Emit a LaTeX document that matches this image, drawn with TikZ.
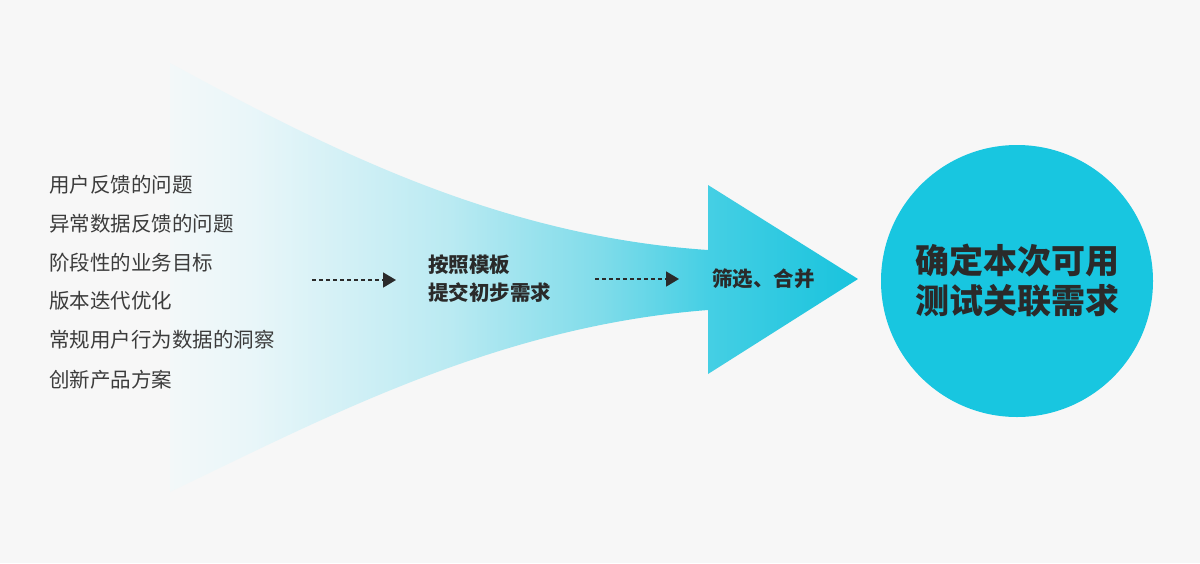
\documentclass[tikz,border=0pt]{standalone}
\usepackage{fontspec}
\setmainfont{Noto Sans CJK SC}
\usetikzlibrary{arrows.meta}
\definecolor{bgc}{HTML}{F7F7F7}
\definecolor{s0}{HTML}{F3F8F9}
\definecolor{s1}{HTML}{E9F6F9}
\definecolor{s2}{HTML}{BAEAF2}
\definecolor{s3}{HTML}{80DCEA}
\definecolor{s4}{HTML}{45CFE4}
\definecolor{s5}{HTML}{18C3DD}
\definecolor{circ}{HTML}{18C6E0}
\definecolor{txt}{HTML}{3C3C3C}
\definecolor{dark}{HTML}{2A2A2A}
\pgfdeclarehorizontalshading{fan}{100bp}{color(0bp)=(s0); color(25bp)=(s0); color(30.8bp)=(s1); color(45.3bp)=(s2); color(56.25bp)=(s3); color(64.1bp)=(s4); color(75bp)=(s5); color(100bp)=(s5)}
\tikzset{
  listitem/.style={anchor=west, text=txt, font=\fontsize{20.5}{24}\selectfont, inner sep=0pt},
  midtext/.style={anchor=west, text=dark, font=\fontsize{20.5}{28}\selectfont\bfseries, inner sep=0pt, align=left},
  flow/.style={draw=dark, line width=1.8pt, dash pattern=on 4pt off 3pt, -{Triangle[length=13pt,width=15pt]}},
}
\begin{document}
\begin{tikzpicture}[x=1pt,y=-1pt]
\fill[bgc] (0,0) rectangle (1200,563);
\useasboundingbox (0,0) rectangle (1200,563);
% fan arrow
\shade[shading=fan] (170,63) .. controls (330,150) and (500,236) .. (708,250)
  -- (708,185) -- (858,279) -- (708,374) -- (708,310)
  .. controls (500,326) and (330,415) .. (170,492) -- cycle;
% circle
\node[circle, fill=circ, minimum size=272pt, inner sep=0pt] (goal) at (1017,281) {};
\node[text=dark, font=\fontsize{34}{40}\selectfont\bfseries, align=center] (goaltext) at (goal.center) {确定本次可用\\测试关联需求};
% list
\node[listitem] (l1) at (49,185) {用户反馈的问题};
\node[listitem] (l2) at (49,224) {异常数据反馈的问题};
\node[listitem] (l3) at (49,263) {阶段性的业务目标};
\node[listitem] (l4) at (49,301) {版本迭代优化};
\node[listitem] (l5) at (49,340) {常规用户行为数据的洞察};
\node[listitem] (l6) at (49,380) {创新产品方案};
% middle
\node[midtext] (m1) at (428,279) {按照模板\\提交初步需求};
\node[midtext] (m2) at (712,279) {筛选、合并};
% dashed arrows
\coordinate (a1s) at (312,280);
\coordinate (a1e) at (396,280);
\coordinate (a2s) at (595,279);
\coordinate (a2e) at (679,279);
\draw[flow] (a1s) -- (a1e);
\draw[flow] (a2s) -- (a2e);
\end{tikzpicture}
\end{document}
